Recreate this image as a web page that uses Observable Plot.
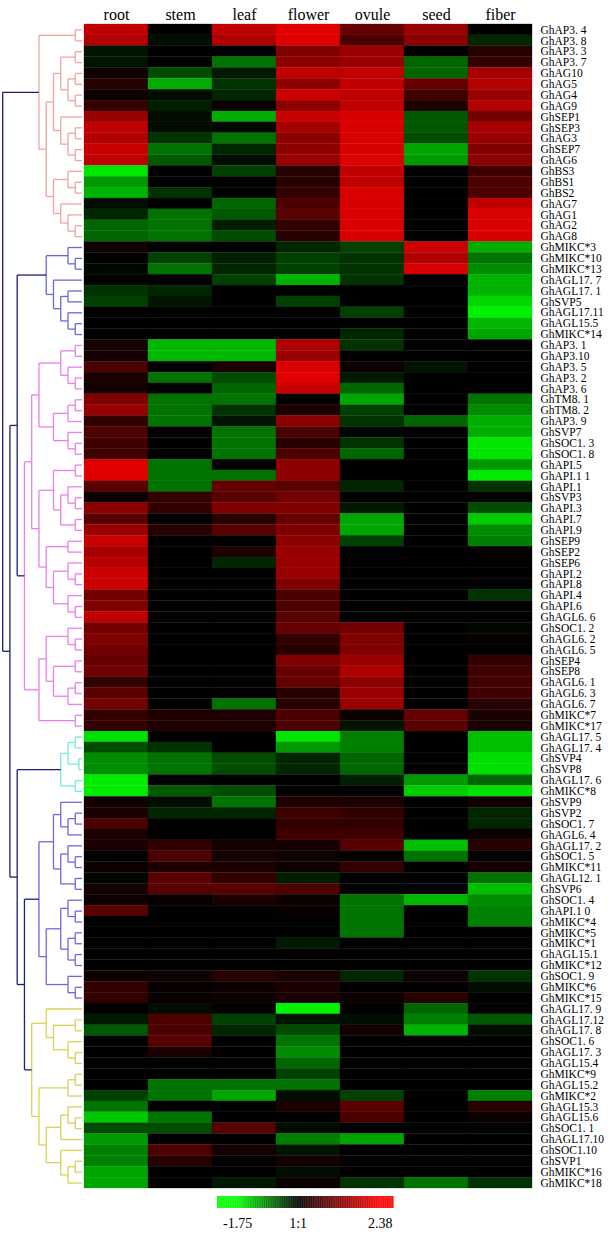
<!DOCTYPE html>
<html><head><meta charset="utf-8">
<script src="https://cdn.jsdelivr.net/npm/d3@7"></script>
<script src="https://cdn.jsdelivr.net/npm/@observablehq/plot@0.6"></script>
<style>
body{margin:0;background:#fff;}
#wrap{width:614px;height:1240px;position:relative;font-family:"Liberation Serif",serif;overflow:hidden;}
#row{display:flex;}
svg{display:block;}
.hm g[aria-label="x-axis"] text, .hm g[aria-label="x-axis tick label"] text{font-size:16px;}
</style></head><body><div id="wrap"><div id="row"></div><div id="bar"></div></div>
<script>
const tissues = ["root","stem","leaf","flower","ovule","seed","fiber"];
const genes = ["GhAP3. 4","GhAP3. 8","GhAP3. 3","GhAP3. 7","GhAG10","GhAG5","GhAG4","GhAG9","GhSEP1","GhSEP3",
"GhAG3","GhSEP7","GhAG6","GhBS3","GhBS1","GhBS2","GhAG7","GhAG1","GhAG2","GhAG8",
"GhMIKC*3","GhMIKC*10","GhMIKC*13","GhAGL17. 7","GhAGL17. 1","GhSVP5","GhAGL17.11","GhAGL15.5","GhMIKC*14","GhAP3. 1",
"GhAP3.10","GhAP3. 5","GhAP3. 2","GhAP3. 6","GhTM8. 1","GhTM8. 2","GhAP3. 9","GhSVP7","GhSOC1. 3","GhSOC1. 8",
"GhAPI.5","GhAPI.1 1","GhAPI.1","GhSVP3","GhAPI.3","GhAPI.7","GhAPI.9","GhSEP9","GhSEP2","GhSEP6",
"GhAPI.2","GhAPI.8","GhAPI.4","GhAPI.6","GhAGL6. 6","GhSOC1. 2","GhAGL6. 2","GhAGL6. 5","GhSEP4","GhSEP8",
"GhAGL6. 1","GhAGL6. 3","GhAGL6. 7","GhMIKC*7","GhMIKC*17","GhAGL17. 5","GhAGL17. 4","GhSVP4","GhSVP8","GhAGL17. 6",
"GhMIKC*8","GhSVP9","GhSVP2","GhSOC1. 7","GhAGL6. 4","GhAGL17. 2","GhSOC1. 5","GhMIKC*11","GhAGL12. 1","GhSVP6",
"GhSOC1. 4","GhAPI.1 0","GhMIKC*4","GhMIKC*5","GhMIKC*1","GhAGL15.1","GhMIKC*12","GhSOC1. 9","GhMIKC*6","GhMIKC*15",
"GhAGL17. 9","GhAGL17.12","GhAGL17. 8","GhSOC1. 6","GhAGL17. 3","GhAGL15.4","GhMIKC*9","GhAGL15.2","GhMIKC*2","GhAGL15.3",
"GhAGL15.6","GhSOC1. 1","GhAGL17.10","GhSOC1.10","GhSVP1","GhMIKC*16","GhMIKC*18"];

const root = [1.79,1.67,-0.14,-0.14,0.14,0.36,0.14,0.48,1.43,1.79, 1.67,1.86,1.79,-1.58,-1.05,-1.23,-0.09,-0.26,-0.7,-0.7,
0.14,0,-0.05,0,-0.35,-0.44,0,0,0,0.19, 0.19,0.71,0.24,0.19,1.19,1.43,0.48,0.71,0.6,0.6,
2.09,2.09,0.83,0.12,1.31,0.83,1.43,1.86,1.55,1.71, 1.9,1.9,1.07,1.19,1.79,1.07,1.19,1.07,0.95,1.07,
0.48,0.83,1.07,0.48,0.48,-1.54,-0.53,-0.96,-0.96,-1.61, -1.61,0.19,0.24,0.71,0.24,0.24,0,0.12,-0.05,0.19,
0.12,0.83,0,0,0,0,0,0.14,0.48,0.48, 0,-0.18,-0.61,0,0,0,0,0,-0.44,-0.79,
-1.37,-0.53,-1.05,-0.88,-0.88,-1.14,-1.14];
const stem = [0,-0.09,0,0,-0.53,-1.19,-0.09,-0.21,-0.09,-0.09, -0.35,-0.79,-0.61,0,0,-0.35,0,-0.79,-0.79,-0.79,
0,-0.44,-0.79,0,-0.26,-0.14,0,0,0,-1.26, -1.26,0,-0.79,0,-0.79,-0.79,-0.79,0,0,0,
-0.79,-0.79,-0.79,0.48,0.48,0,0.36,0,0,0, 0,0,0,0,0,0,0,0,0,0,
0,0,0,0.29,0.29,0,-0.35,-0.79,-0.79,0, -0.61,-0.09,-0.26,0,0,0.48,0.71,0.29,0.83,0.83,
0.07,0,0,0,0,0,0,0.12,0.07,0.07, -0.09,0.71,0.71,0.83,0.24,0,0,-0.79,-0.79,0,
-0.79,-0.53,0,0.71,0.36,0,0];
const leaf = [1.79,1.62,0,-0.79,-0.18,-0.35,-0.26,0.07,-1.19,-0.05, -0.79,-0.26,-0.09,-0.44,0,0,-0.7,-0.61,-0.21,-0.53,
0,-0.21,-0.26,-0.44,0,0,0,0,0,-1.26, -1.26,0.24,-0.53,-0.7,-0.79,-0.35,-0.14,-0.79,-0.79,-0.79,
0,-0.79,0.95,0.83,1.19,0.36,0.83,0,0.29,-0.26, 0,0,0,0,0,0,0,0,0,0,
0,0,-0.79,0.29,0.29,0,0,-0.53,-0.53,0, -0.53,-0.79,-0.26,0,0,0.19,0.19,0.29,0.48,0.83,
0.29,0,0,0,0,0,0,0.36,0.12,0.12, 0,-0.44,-0.26,0,0,0,0,-0.79,-1.14,0,
0,0.83,0,0.19,0,0,-0.18];
const flower = [2.09,2.09,1.19,1.31,1.79,1.31,1.9,1.31,1.86,1.55, 1.31,1.31,1.43,0.36,0.36,0.48,0.71,0.83,0.48,0.36,
-0.26,-0.44,-0.44,-1.23,0,-0.44,0,0,0,1.62, 1.43,2.02,2.09,1.86,0,0.29,1.31,0.71,0.36,0.71,
1.31,1.31,0.83,1.07,1.19,0.95,1.19,1.31,1.43,1.43, 1.43,1.19,0.71,0.71,0.83,0.95,0.48,0.36,1.19,0.95,
0.95,0.36,0.36,0.71,0.71,-1.58,-1.05,-0.26,-0.26,0, 0,0.29,0.6,0.48,0.6,0.19,0.12,0.12,-0.21,0.71,
0.12,0.07,0,0,-0.18,0,0,0.24,0.24,0.24, -1.66,-0.14,-0.53,-0.79,-0.96,-0.7,-0.44,-0.79,-0.09,0.24,
0,-0.09,-0.88,-0.14,0.19,-0.09,0.12];
const ovule = [0.95,0.71,1.43,1.43,1.79,1.79,1.79,1.79,2.02,2.02, 2.02,2.02,2.02,1.79,1.79,2.02,2.02,2.02,2.02,2.02,
-0.44,-0.35,-0.35,-0.35,0,0,-0.44,0,-0.26,-0.35, 0,0.12,-0.18,-0.7,-1.14,-0.44,-0.35,-0.04,-0.35,-0.7,
0,0,-0.26,0,-0.18,-1.14,-1.14,-0.44,0,0, 0,0,0.05,0,0,1.07,1.19,1.19,1.43,1.62,
1.31,1.43,1.43,0.12,-0.14,-0.88,-0.88,-0.7,-0.7,-0.21, 0,0.24,0.48,0.48,0.6,0.83,0,0.48,0,0,
-0.79,-0.79,-0.79,-0.79,0,0,0,-0.26,0,0.12, 0,-0.09,0.19,0,0,0,0,0,-0.44,0.83,
0.71,0,-1.14,0,0,0,-0.35];
const seed = [1.43,1.31,0,-0.7,-0.7,0.95,0.6,0.29,-0.61,-0.61, -0.53,-1.14,-1.05,0,0,0,0,0,0,0,
1.9,1.62,2.02,0,0,0,0,0,0,0, 0,-0.14,0,0,0,0,-0.7,0,0,0,
0,0,0,0,0,0,0,0,0,0, 0,0,0,0,0,0,0,0,0,0,
0,0,0,0.95,0.83,0,0,0,0,-1.05, -1.4,0,0,0,0,-1.31,-0.79,0,0,0,
-1.26,0,0,0,0,0,0,0.12,0,0.36, -0.7,-0.88,-1.23,0,0,0,0,0,0,0,
0,0,0,0,0,0,-0.79];
const fiber = [0,-0.26,0.36,0.48,1.55,1.67,1.43,1.67,1.07,1.55, 1.43,1.19,1.31,0.6,0.71,0.71,1.79,2.02,2.02,2.02,
-1.19,-0.79,-0.96,-1.23,-1.23,-1.49,-1.66,-1.26,-1.14,0, 0,0,0,0,-0.79,-0.96,-1.19,-1.19,-1.58,-1.58,
-1.05,-1.61,-0.35,0,-0.53,-1.4,-0.96,-0.88,0,0, 0,0,-0.35,0,0,-0.05,0.07,0,0.48,0.6,
0.6,0.6,0.36,0.24,0.24,-1.31,-1.31,-1.54,-1.54,-0.7, -1.54,0.19,-0.26,-0.26,0.12,0.36,0,0.19,-0.79,-1.31,
-0.96,-0.88,-0.88,0,0,0,0,-0.35,-0.09,0, 0,-0.61,-0.09,0,0,0,0,0,-0.88,0.36,
0.12,0,0,0,0,0,-0.35];

const scaleDomain = [-1.75, 0, 2.38];
const scaleColors = ["#00ff00", "#000000", "#ff0000"];
const tickValues = [-1.75, 0, 2.38];
const tickLabels = ["-1.75", "1:1", "2.38"];

// dendrogram: [level, childA, childB]; leaves are row numbers (1-based)
const clusterNames = ["salmon","blue1","magenta","cyan","blue2","yellow"];
const clusterColors = ["#f0a4a0","#6a68dc","#ec7eec","#74ecd8","#7a62e0","#d8d256"];
const clusterTrees = [
 [6,[1,1,2],[5,[4,[3,[1,3,4],[2,[1,5,6],[1,7,8]]],[3,9,[2,[1,10,11],[1,12,13]]]],[4,[2,14,[1,15,16]],[3,17,[2,18,[1,19,20]]]]]],
 [5,[2,21,[1,22,23]],[4,24,[3,[2,25,26],[2,27,[1,28,29]]]]],
 [8,[7,[6,[3,[1,30,31],[2,32,[1,33,34]]],[4,[2,[1,35,36],37],[2,38,[1,39,40]]]],
       [6,[4,[1,41,42],[3,[2,43,[1,44,45]],[1,46,47]]],[5,[2,48,49],[4,[2,50,[1,51,52]],[2,53,[1,54,55]]]]]],
     [6,[5,[2,56,[1,57,58]],[4,[1,59,60],[2,[1,61,62],63]]],[1,64,65]]],
 [3,[2,[1,66,67],[0.5,68,69]],[1,70,71]],
 [6,[4,[3,72,[2,[1,73,74],75]],[3,[2,76,[1,77,78]],[1,79,80]]],[5,[3,[2,81,[1,82,83]],[2,[1,84,85],[1,86,87]]],[2,88,[1,89,90]]]],
 [7,[5,91,[4,[1,92,93],[2,94,[1,95,96]]]],[6,[2,[1,97,98],99],[5,[3,[2,100,[1,101,102]],103],[3,104,[2,[1,105,106],107]]]]]
];
const backbone = [11,"salmon",[10,[9,"blue1","magenta"],[9,"cyan",[8,"blue2","yellow"]]]];
const backboneColor = "#1e1e74";

// build segments from the tree
const segs = [];
function walk(node, color) {
  if (typeof node === "number") return {k: 0, y: node - 0.5};
  if (typeof node === "string") {
    const i = clusterNames.indexOf(node);
    return walk(clusterTrees[i], clusterColors[i]);
  }
  const [k, a, b] = node;
  const ca = walk(a, color), cb = walk(b, color);
  segs.push({x1: k, x2: k, y1: ca.y, y2: cb.y, c: color});
  segs.push({x1: k, x2: ca.k, y1: ca.y, y2: ca.y, c: color});
  segs.push({x1: k, x2: cb.k, y1: cb.y, y2: cb.y, c: color});
  return {k, y: (ca.y + cb.y) / 2};
}
walk(backbone, backboneColor);

const H = 1192, TOP = 24, BOT = 4, DW = 82;
const dendro = Plot.plot({
  width: DW, height: H, marginTop: TOP, marginBottom: BOT, marginLeft: 0, marginRight: 0,
  x: {domain: [0, 11.3], reverse: true, axis: null},
  y: {domain: [0, genes.length], reverse: true, axis: null},
  color: {type: "identity"},
  marks: [Plot.link(segs, {x1: "x1", x2: "x2", y1: "y1", y2: "y2", stroke: "c", strokeWidth: 1.3})]
});

const series = [root, stem, leaf, flower, ovule, seed, fiber];
const cells = [];
genes.forEach((g, i) => tissues.forEach((t, j) => cells.push({gene: g, tissue: t, value: series[j][i]})));

const colorOpts = {type: "linear", domain: scaleDomain, range: scaleColors, clamp: true};
const heat = Plot.plot({
  width: 614 - DW, height: H, marginTop: TOP, marginBottom: BOT, marginLeft: 0, marginRight: 81,
  style: {fontFamily: "Liberation Serif, serif", fontSize: "11.5px", color: "#000", background: "#fff"},
  x: {domain: tissues, axis: "top", tickSize: 0, tickPadding: 5, label: null, padding: 0},
  y: {domain: genes, axis: "right", tickSize: 0, tickPadding: 7, label: null, padding: 0},
  color: colorOpts,
  marks: [Plot.cell(cells, {x: "tissue", y: "gene", fill: "value", inset: 0, stroke: "value", strokeWidth: 0.3})]
});
heat.classList.add("hm");

const row = document.getElementById("row");
row.appendChild(dendro);
row.appendChild(heat);

const step = 0.02;
const ramp = d3.range(-2.33, 2.76, step);
const bar = Plot.plot({
  width: 614, height: 48, marginTop: 4, marginBottom: 32, marginLeft: 0, marginRight: 0,
  style: {fontFamily: "Liberation Serif, serif", fontSize: "14px", color: "#000", background: "#fff"},
  x: {type: "linear", domain: [-2.33, 2.76], range: [217, 393], ticks: tickValues,
      tickFormat: d => tickLabels[tickValues.indexOf(d)], tickSize: 0, tickPadding: 10, label: null},
  y: {domain: [0, 1], axis: null},
  color: colorOpts,
  marks: [Plot.rect(ramp, {x1: d => d, x2: d => d + step * 1.3, y1: 0, y2: 1, fill: d => d + step / 2})]
});
document.getElementById("bar").appendChild(bar);
</script></body></html>
